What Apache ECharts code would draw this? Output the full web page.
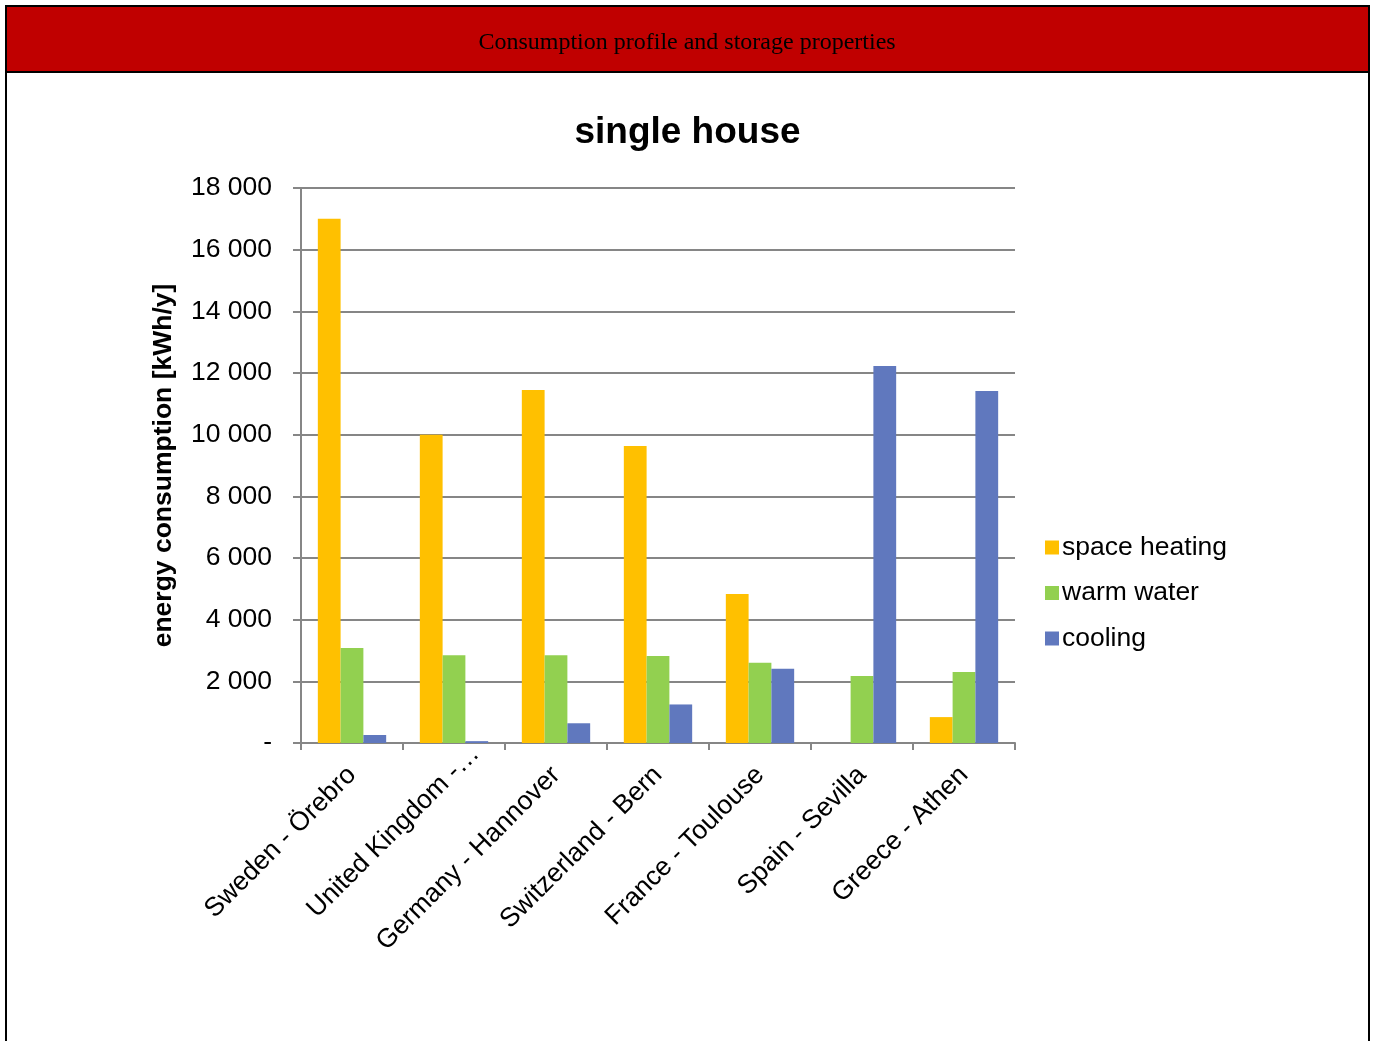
<!DOCTYPE html>
<html>
<head>
<meta charset="utf-8">
<script src="https://cdn.jsdelivr.net/npm/echarts@6/dist/echarts.min.js"></script>
<style>
html,body{margin:0;padding:0;background:#fff;}
#c{width:1375px;height:1041px;}
</style>
</head>
<body>
<div id="c"></div>
<script>
const headerText = 'Consumption profile and storage properties';
const chartTitle = 'single house';
const yAxisName = 'energy consumption [kWh/y]';
const categories = ['Sweden - Örebro','United Kingdom -…','Germany - Hannover','Switzerland - Bern','France - Toulouse','Spain - Sevilla','Greece - Athen'];
const spaceHeating = [17000, 10000, 11450, 9630, 4830, 0, 840];
const warmWater = [3080, 2850, 2850, 2820, 2600, 2170, 2300];
const cooling = [260, 60, 640, 1250, 2410, 12230, 11420];
const seriesNames = ['space heating','warm water','cooling'];
const colors = ['#FFC000','#92D050','#6078BE'];

const chart = echarts.init(document.getElementById('c'));
const f = 'Arial, "Liberation Sans", sans-serif';
const seriesData = [spaceHeating, warmWater, cooling];
const catData = categories.map((c,i) => i===1 ? {value:c, textStyle:{padding:[0,-30,0,0]}} : c);
chart.setOption({
  animation:false,
  color: colors,
  graphic:[
    {type:'rect', shape:{x:6,y:6,width:1363,height:66}, style:{fill:'#C00000', stroke:'#000', lineWidth:2}},
    {type:'line', shape:{x1:6,y1:72,x2:6,y2:1041}, style:{stroke:'#000', lineWidth:2}},
    {type:'line', shape:{x1:1369,y1:72,x2:1369,y2:1041}, style:{stroke:'#000', lineWidth:2}},
    {type:'text', x:687, y:43, style:{text:headerText, fill:'#000', font:'24px "Liberation Serif", "Times New Roman", serif', align:'center', verticalAlign:'middle'}}
  ],
  title:{text:chartTitle, left:'center', top:109, textStyle:{fontFamily:f, fontSize:37, fontWeight:'bold', color:'#000'}},
  legend:{orient:'vertical', left:1040, top:529, itemWidth:14, itemHeight:14, itemGap:18.5, icon:'rect',
    textStyle:{fontFamily:f, fontSize:26.5, color:'#000', padding:[0,0,0,-2]}, data:seriesNames},
  grid:{left:301, right:360, top:188, bottom:298, containLabel:false},
  xAxis:{type:'category', data:catData,
    axisLine:{lineStyle:{color:'#868686', width:2}},
    axisTick:{show:true, length:7, lineStyle:{color:'#868686', width:2}},
    axisLabel:{rotate:45, margin:28, interval:0, fontFamily:f, fontSize:26.5, color:'#000'}},
  yAxis:{type:'value', min:0, max:18000, interval:2000,
    name:yAxisName, nameLocation:'middle', nameRotate:90, nameGap:124,
    nameTextStyle:{fontFamily:f, fontSize:26.5, fontWeight:'bold', color:'#000'},
    axisLine:{show:true, lineStyle:{color:'#868686', width:2}},
    axisTick:{show:true, length:8, lineStyle:{color:'#868686', width:2}},
    splitLine:{lineStyle:{color:'#868686', width:2}},
    axisLabel:{margin:29, fontFamily:f, fontSize:26.5, color:'#000',
      formatter:v => v===0 ? '-' : String(v).replace(/\B(?=(\d{3})+(?!\d))/g,' ')}},
  series: seriesNames.map((n,i)=>({name:n, type:'bar', data:seriesData[i], barGap:'0%', barCategoryGap:'33%',
    itemStyle:{color:colors[i]}}))
});
</script>
</body>
</html>
